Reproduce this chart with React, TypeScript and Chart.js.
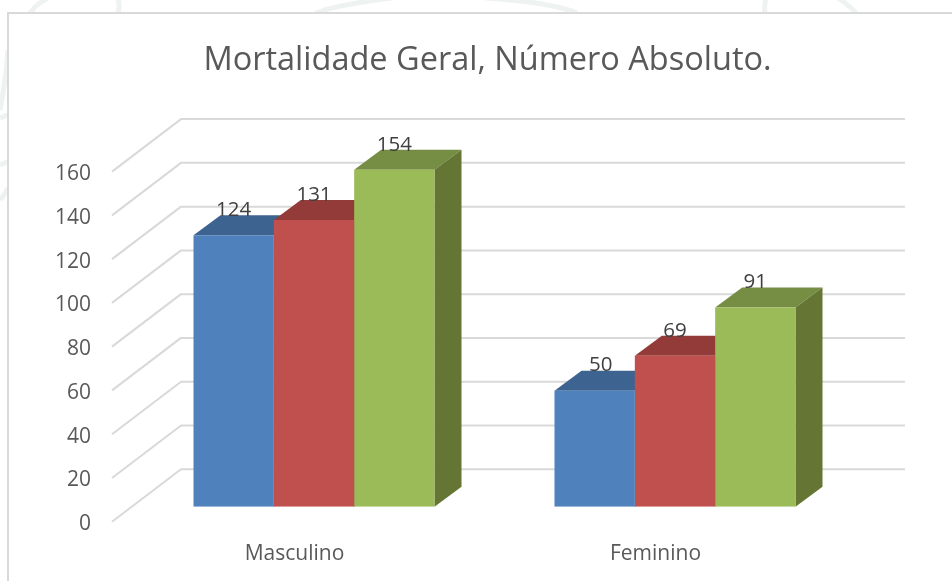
import React, { useEffect, useRef } from "react";
import { Chart, registerables } from "chart.js";

Chart.register(...registerables);

const titleText = "Mortalidade Geral, Número Absoluto.";
const categories = ["Masculino", "Feminino"];
const seriesA = [124, 53];
const seriesB = [131, 69];
const seriesC = [154, 91];
const labelsA = ["124", "50"];
const labelsB = ["131", "69"];
const labelsC = ["154", "91"];
const frontColors = ["#4F81BD", "#C0504D", "#9BBB59"];
const topColors = ["#3D6391", "#923B39", "#768E43"];
const sideColors = ["#34547C", "#7C3231", "#647534"];
const FONT = "'Open Sans', sans-serif";

const depthX = 27;
const depthY = 20;
const gridBackX = 181;
const gridFrontX = 112;
const gridRightX = 905;
const wallRise = 52.5;
const planeDrop = 15;

const watermark = [
  [30, 13, 36, 4, 48, -2],
  [118, 13, 120, 8, 118, -2],
  [316, 13, 340, 4, 392, -2],
  [577, 13, 550, 2, 485, -2],
  [765, 13, 764, 6, 766, -2],
  [856, 13, 850, 6, 838, -2],
];
const watermarkLeft = [
  [0, 110, 6, 80, 8, 50],
  [0, 118, 4, 116, 8, 115],
  [0, 165, 4, 163, 8, 162],
  [0, 200, 4, 196, 8, 188],
];

const scene3d = {
  id: "scene3d",
  afterLayout(chart: any) {
    chart.titleBlock.left = 0;
    chart.titleBlock.right = 975;
  },
  beforeDraw(chart: any) {
    const c = chart.ctx;
    c.save();
    c.fillStyle = "#ffffff";
    c.fillRect(0, 0, chart.width, chart.height);
    c.strokeStyle = "#EEF3F1";
    c.lineWidth = 5;
    for (const w of [...watermark, ...watermarkLeft]) {
      c.beginPath();
      c.moveTo(w[0], w[1]);
      c.quadraticCurveTo(w[2], w[3], w[4], w[5]);
      c.stroke();
    }
    c.fillStyle = "#ffffff";
    c.fillRect(8, 13, chart.width, chart.height);
    c.strokeStyle = "#D9D9D9";
    c.lineWidth = 2;
    c.beginPath();
    c.moveTo(8, chart.height);
    c.lineTo(8, 13);
    c.lineTo(chart.width, 13);
    c.stroke();
    c.restore();
  },
  beforeDatasetsDraw(chart: any) {
    const c = chart.ctx;
    const yScale = chart.scales.y;
    c.save();
    c.strokeStyle = "#D9D9D9";
    c.lineWidth = 2;
    c.lineJoin = "round";
    yScale.ticks.forEach((t: any) => {
      const y = yScale.getPixelForValue(t.value) + planeDrop;
      c.beginPath();
      c.moveTo(gridFrontX, y);
      c.lineTo(gridBackX, y - wallRise);
      c.lineTo(gridRightX, y - wallRise);
      c.stroke();
    });
    chart.data.datasets.forEach((_: any, i: number) => {
      chart.getDatasetMeta(i).data.forEach((bar: any) => {
        const p = bar.getProps(["x", "y", "base", "width"], true);
        const l = p.x - p.width / 2;
        const r = p.x + p.width / 2;
        c.fillStyle = topColors[i];
        c.beginPath();
        c.moveTo(l, p.y);
        c.lineTo(r, p.y);
        c.lineTo(r + depthX, p.y - depthY);
        c.lineTo(l + depthX, p.y - depthY);
        c.closePath();
        c.fill();
        c.fillStyle = sideColors[i];
        c.beginPath();
        c.moveTo(r, p.y);
        c.lineTo(r + depthX, p.y - depthY);
        c.lineTo(r + depthX, p.base - depthY);
        c.lineTo(r, p.base);
        c.closePath();
        c.fill();
      });
    });
    c.restore();
  },
  afterDatasetsDraw(chart: any) {
    const c = chart.ctx;
    c.save();
    c.font = `20.5px ${FONT}`;
    c.fillStyle = "#404040";
    c.textAlign = "center";
    c.textBaseline = "middle";
    const texts = [labelsA, labelsB, labelsC];
    chart.data.datasets.forEach((_: any, i: number) => {
      chart.getDatasetMeta(i).data.forEach((bar: any, j: number) => {
        const p = bar.getProps(["x", "y"], true);
        const nudge = texts[i][j] === "50" ? 6 : 0;
        c.fillText(texts[i][j], p.x + nudge, p.y - 25 + (nudge ? -1 : 0));
      });
    });
    c.restore();
  },
};

export default function App() {
  const ref = useRef<HTMLCanvasElement>(null);
  useEffect(() => {
    const chart = new Chart(ref.current!, {
      type: "bar",
      data: {
        labels: categories,
        datasets: [seriesA, seriesB, seriesC].map((data, i) => ({
          label: `Série ${i + 1}`,
          data,
          backgroundColor: frontColors[i],
          borderWidth: 0,
          barPercentage: 1,
          categoryPercentage: 0.6676,
        })),
      },
      options: {
        responsive: false,
        animation: false,
        layout: { padding: { top: 0, left: 0, right: 96.5, bottom: 0 } },
        plugins: {
          legend: { display: false },
          tooltip: { enabled: false },
          title: {
            display: true,
            text: titleText,
            color: "#595959",
            font: { family: FONT, size: 32.5, weight: "normal", lineHeight: 1.2 },
            padding: { top: 41, bottom: 76.6 },
          },
        },
        scales: {
          x: {
            grid: { display: false, drawTicks: false },
            border: { display: false },
            afterFit: (s: any) => {
              s.height = 74.3;
            },
            ticks: {
              color: "#595959",
              font: { family: FONT, size: 21 },
              padding: 35,
              labelOffset: -19.5,
              maxRotation: 0,
            },
          },
          y: {
            min: 0,
            max: 160,
            grid: { display: false, drawTicks: false },
            border: { display: false },
            afterFit: (s: any) => {
              s.width = 133.5;
            },
            ticks: {
              stepSize: 20,
              color: "#595959",
              font: { family: FONT, size: 21 },
              padding: 42.5,
              labelOffset: planeDrop + 2.5,
            },
          },
        },
      },
      plugins: [scene3d],
    } as any);
    return () => chart.destroy();
  }, []);
  return (
    <canvas
      ref={ref}
      width={952}
      height={581}
      style={{ position: "fixed", left: 0, top: 0, width: 952, height: 581, display: "block" }}
    />
  );
}
